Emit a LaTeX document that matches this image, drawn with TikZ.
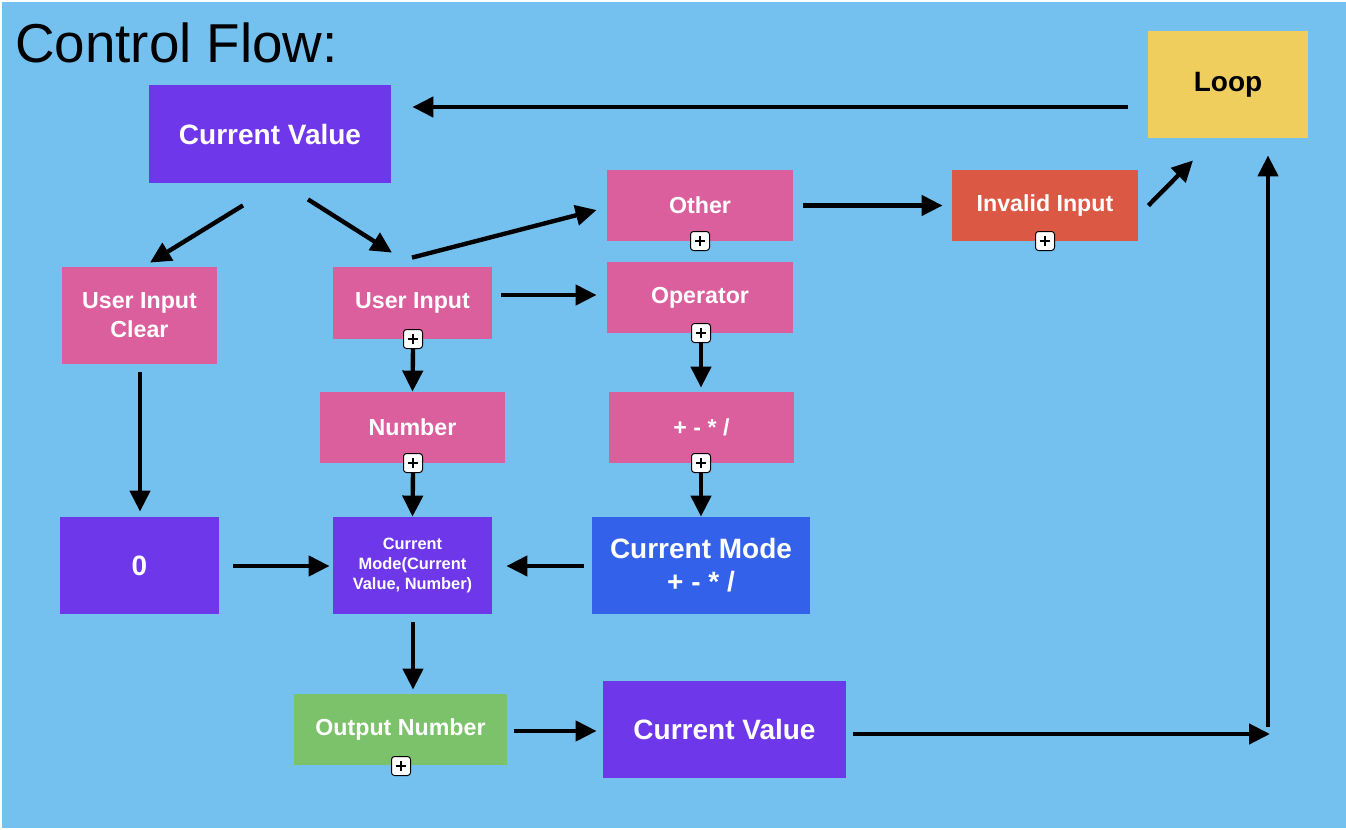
\documentclass[tikz,border=0pt]{standalone}
\usepackage{fontspec}
\setmainfont{Liberation Sans}
\usetikzlibrary{arrows.meta,calc}
\definecolor{bgblue}{HTML}{74C1EF}
\definecolor{cpurple}{HTML}{6E38EA}
\definecolor{cpink}{HTML}{DA5F9C}
\definecolor{cred}{HTML}{DB5944}
\definecolor{cyellow}{HTML}{F0CE5E}
\definecolor{cblue}{HTML}{3461EA}
\definecolor{cgreen}{HTML}{7CC26B}
\tikzset{
  bx/.style 2 args={rectangle, inner sep=0pt, align=center, text=white,
    minimum width=#1*0.5pt, minimum height=#2*0.5pt},
  big/.style={font=\fontsize{14}{16.5}\selectfont\bfseries},
  mid/.style={font=\fontsize{11.6}{14.5}\selectfont\bfseries},
  small/.style={font=\fontsize{8.2}{10}\selectfont\bfseries},
  plusbox/.style={rectangle, draw=black, line width=0.5pt, fill=white, rounded corners=1.5pt,
    minimum width=9.5pt, minimum height=9.5pt, inner sep=0pt,
    path picture={\draw[line width=0.9pt,black]
      ([xshift=-2.7pt]path picture bounding box.center) -- ([xshift=2.7pt]path picture bounding box.center)
      ([yshift=-2.7pt]path picture bounding box.center) -- ([yshift=2.7pt]path picture bounding box.center);}},
  arr/.style={line width=2.2pt, -{Triangle[length=10.5pt,width=10pt]}}
}
\begin{document}
\begin{tikzpicture}[x=0.5pt,y=-0.5pt]
\useasboundingbox (0,0) rectangle (1346,830);
\fill[white] (0,0) rectangle (1346,830);
\fill[bgblue] (2,2) rectangle (1346,828);

\node[anchor=base west, font=\fontsize{27.4}{30}\selectfont] (title) at (8,62) {Control Flow:};

% boxes
\node[bx={242}{98}, fill=cpurple, big] (cvtop) at (270,134) {Current Value};
\node[bx={160}{107}, fill=cyellow, big, text=black] (loop) at (1228,84.5) {Loop};
\node[bx={186}{71}, fill=cpink, mid] (other) at (700,205.5) {Other};
\node[bx={186}{71}, fill=cred, mid] (invalid) at (1045,205.5) {Invalid Input};
\node[bx={155}{97}, fill=cpink, mid] (uiclear) at (139.5,315.5) {User Input\\Clear};
\node[bx={159}{72}, fill=cpink, mid] (ui) at (412.5,303) {User Input};
\node[bx={186}{71}, fill=cpink, mid] (operator) at (700,297.5) {Operator};
\node[bx={185}{71}, fill=cpink, mid] (number) at (412.5,427.5) {Number};
\node[bx={185}{71}, fill=cpink, mid] (ops) at (701.5,427.5) {+ - * /};
\node[bx={159}{97}, fill=cpurple, big] (zero) at (139.5,565.5) {0};
\node[bx={159}{97}, fill=cpurple, small] (cm) at (412.5,565.5) {Current\\Mode(Current\\Value, Number)};
\node[bx={218}{97}, fill=cblue, big] (cmode) at (701,565.5) {Current Mode\\+ - * /};
\node[bx={213}{71}, fill=cgreen, mid] (output) at (400.5,729.5) {Output Number};
\node[bx={243}{97}, fill=cpurple, big] (cvbot) at (724.5,729.5) {Current Value};

% plus boxes
\node[plusbox] (pother) at (700,241) {};
\node[plusbox] (pinvalid) at (1045,241) {};
\node[plusbox] (pui) at (413,339) {};
\node[plusbox] (pop) at (701,333) {};
\node[plusbox] (pnum) at (413,463) {};
\node[plusbox] (pops) at (701,463) {};
\node[plusbox] (pout) at (401,766) {};

\coordinate (turn) at (1268,734);

% arrows
\draw[arr] ($(loop.west)+(-20,22.5)$) -- ($(cvtop.east)+(21,-27)$);
\draw[arr] ($(cvtop.south)+(-27,22)$) -- ($(uiclear.north)+(10.5,-4)$);
\draw[arr] ($(cvtop.south)+(38,16)$) -- ($(ui.north)+(-20.5,-14)$);
\draw[arr] ($(ui.north)+(-0.5,-9)$) -- ($(other.west)+(-10,4.5)$);
\draw[arr] ($(other.east)+(10,0)$) -- ($(invalid.west)+(-9,0)$);
\draw[arr] ($(invalid.east)+(10,0)$) -- ($(loop.south)+(-35,22)$);
\draw[arr] ($(ui.east)+(9,-8)$) -- ($(operator.west)+(-10,-2.5)$);
\draw[arr] (pui.south) -- (number.north);
\draw[arr] (pop.south) -- ($(ops.north)+(-0.5,-4)$);
\draw[arr] (pnum.south) -- (cm.north);
\draw[arr] (pops.south) -- (cmode.north);
\draw[arr] ($(uiclear.south)+(0.5,8)$) -- ($(zero.north)+(0.5,-5)$);
\draw[arr] ($(zero.east)+(14,0.5)$) -- ($(cm.west)+(-3,0.5)$);
\draw[arr] ($(cmode.west)+(-8,0.5)$) -- ($(cm.east)+(14,0.5)$);
\draw[arr] ($(cm.south)+(0.5,8)$) -- ($(output.north)+(12.5,-4)$);
\draw[arr] ($(output.east)+(7,1.5)$) -- ($(cvbot.west)+(-6,1.5)$);
\draw[arr] ($(cvbot.east)+(7,4.5)$) -- ($(turn)+(2,0)$);
\draw[arr] ($(turn)+(0,-7)$) -- ($(loop.south)+(40,17)$);
\end{tikzpicture}
\end{document}
